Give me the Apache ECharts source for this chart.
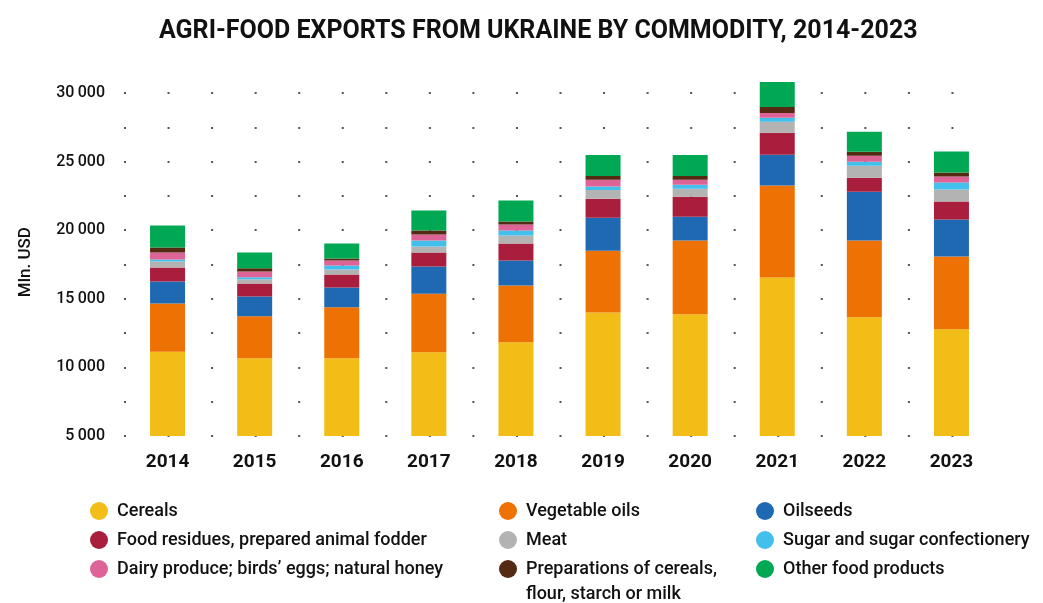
<!DOCTYPE html>
<html>
<head>
<meta charset="utf-8">
<title>Agri-food exports from Ukraine</title>
<script src="https://cdn.jsdelivr.net/npm/echarts@6/dist/echarts.min.js"></script>
<style>
  html, body { margin: 0; padding: 0; background: #fff; }
  #chart { width: 1043px; height: 603px; }
</style>
</head>
<body>
<div id="chart"></div>
<script>
// years on the x axis
var years = ['2014', '2015', '2016', '2017', '2018', '2019', '2020', '2021', '2022', '2023']

// values, mln USD
var cereals = [11150, 10670, 10670, 11100, 11830, 14010, 13870, 16560, 13650, 12780]
var vegetableOils = [3510, 3050, 3710, 4260, 4140, 4500, 5380, 6690, 5600, 5310]
var oilseeds = [1600, 1450, 1450, 1990, 1820, 2400, 1740, 2250, 3560, 2690]
var foodResidues = [1020, 950, 950, 1020, 1240, 1380, 1450, 1600, 1020, 1310]
var meat = [440, 310, 360, 440, 580, 650, 580, 800, 870, 870]
var sugar = [150, 150, 290, 440, 360, 240, 290, 290, 290, 510]
var dairy = [510, 410, 360, 440, 440, 490, 360, 360, 440, 440]
var preparations = [360, 240, 150, 290, 220, 290, 290, 440, 290, 290]
var otherFood = [1600, 1140, 1090, 1450, 1530, 1530, 1530, 1820, 1450, 1530]

var seriesNames = [
  'Cereals',
  'Vegetable oils',
  'Oilseeds',
  'Food residues, prepared animal fodder',
  'Meat',
  'Sugar and sugar confectionery',
  'Dairy produce; birds’ eggs; natural honey',
  'Preparations of cereals, flour, starch or milk',
  'Other food products'
]
var seriesData = [cereals, vegetableOils, oilseeds, foodResidues, meat, sugar, dairy, preparations, otherFood]
var colors = ['#f2bd17', '#ee7203', '#1f69b3', '#a81e3c', '#b3b3b3', '#42bfeb', '#de6396', '#542a13', '#00a853']

var font = 'Roboto, "Noto Sans", sans-serif'
var legendText = {
  fontFamily: font,
  fontSize: 18,
  fontWeight: 500,
  color: '#111',
  lineHeight: 18,
  padding: [0, 0, 0, 4]
}

function makeLegend(left, names) {
  return {
    orient: 'vertical',
    left: left,
    top: 502,
    padding: 0,
    icon: 'circle',
    itemWidth: 18,
    itemHeight: 18,
    itemGap: 11,
    selectedMode: false,
    textStyle: legendText,
    formatter: function (name) {
      // 第二行文字放在 graphic 里
      if (name === seriesNames[7]) return 'Preparations of cereals,'
      return name
    },
    data: names
  }
}

var chart = echarts.init(document.getElementById('chart'))

var option = {
  backgroundColor: '#fff',
  animation: false,
  color: colors,
  title: {
    text: 'AGRI-FOOD EXPORTS FROM UKRAINE BY COMMODITY, 2014-2023',
    left: 154,
    top: 14,
    textStyle: {
      fontFamily: font,
      fontSize: 25,
      fontWeight: 'bold',
      color: '#111'
    }
  },
  legend: [
    makeLegend(90, [seriesNames[0], seriesNames[3], seriesNames[6]]),
    makeLegend(499, [seriesNames[1], seriesNames[4], seriesNames[7]]),
    makeLegend(756, [seriesNames[2], seriesNames[5], seriesNames[8]])
  ],
  graphic: [
    {
      type: 'text',
      left: 526,
      top: 585,
      style: {
        text: 'flour, starch or milk',
        font: '500 18px ' + font,
        fill: '#111'
      }
    }
  ],
  grid: {
    left: 124,
    right: 48,
    top: 79.3,
    bottom: 167,
    containLabel: false
  },
  xAxis: {
    type: 'category',
    data: years,
    axisLine: { show: false },
    axisTick: { show: false },
    splitLine: { show: false },
    axisLabel: {
      margin: 17,
      fontFamily: font,
      fontSize: 19,
      fontWeight: 'bold',
      color: '#111'
    }
  },
  yAxis: {
    type: 'value',
    min: 5000,
    max: 31000,
    interval: 2500,
    name: 'Mln. USD',
    nameLocation: 'middle',
    nameGap: 90,
    nameTextStyle: {
      fontFamily: font,
      fontSize: 17,
      fontWeight: 500,
      color: '#111',
      padding: [0, 9, 0, 0]
    },
    axisLine: { show: false },
    axisTick: { show: false },
    //点状网格
    splitLine: {
      showMaxLine: false,
      lineStyle: {
        color: '#555',
        width: 2,
        type: [2, 41.55]
      }
    },
    axisLabel: {
      margin: 19,
      fontFamily: font,
      fontSize: 16,
      fontWeight: 500,
      color: '#111',
      formatter: function (v) {
        if (v % 5000 !== 0) return ''
        return String(v).replace(/(\d)(?=(\d{3})+$)/g, '$1\u2009')
      }
    }
  },
  series: seriesNames.map(function (name, i) {
    return {
      name: name,
      type: 'bar',
      stack: 'total',
      barWidth: 35,
      itemStyle: { color: colors[i] },
      data: seriesData[i]
    }
  })
}

chart.setOption(option)
</script>
</body>
</html>
